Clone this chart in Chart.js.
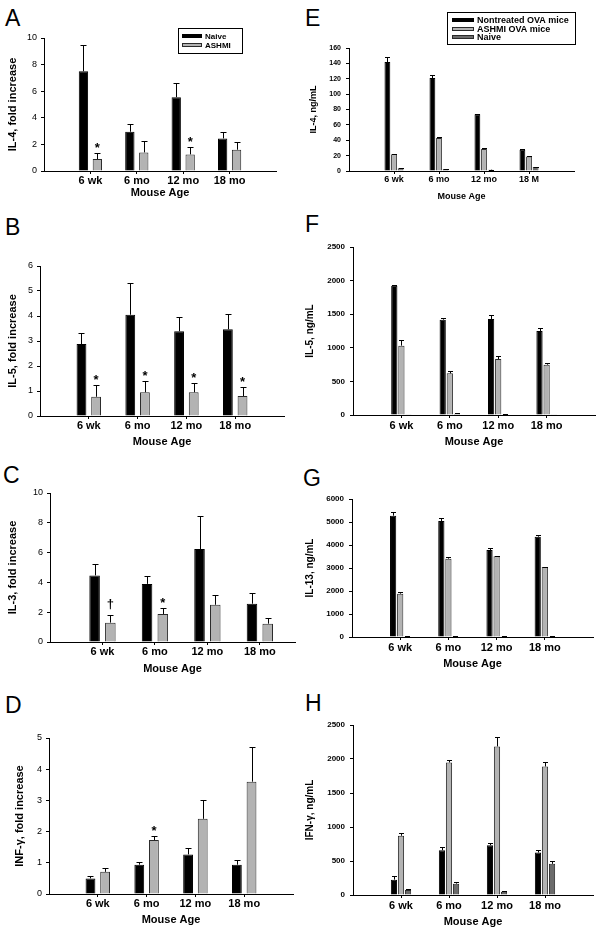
<!DOCTYPE html>
<html lang="en">
<head>
<meta charset="utf-8">
<title>Cytokine responses by mouse age</title>
<script src="https://cdn.jsdelivr.net/npm/chart.js@4.4.1/dist/chart.umd.min.js"></script>
<style>
  html, body { margin: 0; padding: 0; background: #fff; }
  #figure { position: relative; width: 600px; height: 934px; overflow: hidden; }
  #figure canvas { position: absolute; }
  .tag { position: absolute; font: 23px "Liberation Sans", Arial, sans-serif; line-height: 1; color: #000; }
</style>
</head>
<body>
<div id="figure"></div>
<script>
// Category axis: four ages, placed at 1..4 on a linear x scale
const ageLabels = ['6 wk', '6 mo', '12 mo', '18 mo'];
const ageLabelsE = ['6 wk', '6 mo', '12 mo', '18 M'];
const agePositions = [1, 2, 3, 4];

// A - IL-4, fold increase
const aNaive = [7.5, 2.95, 5.55, 2.45];
const aNaiveErr = [1.95, 0.55, 1.1, 0.5];
const aAshmi = [0.9, 1.4, 1.25, 1.6];
const aAshmiErr = [0.45, 0.85, 0.55, 0.6];
const aMarks = ['*', '', '*', ''];

// B - IL-5, fold increase
const bNaive = [2.88, 4.05, 3.39, 3.47];
const bNaiveErr = [0.45, 1.28, 0.56, 0.61];
const bAshmi = [0.77, 0.95, 0.95, 0.8];
const bAshmiErr = [0.47, 0.45, 0.36, 0.35];
const bMarks = ['*', '*', '*', '*'];

// C - IL-3, fold increase
const cNaive = [4.47, 3.9, 6.24, 2.57];
const cNaiveErr = [0.76, 0.55, 2.24, 0.7];
const cAshmi = [1.3, 1.88, 2.5, 1.23];
const cAshmiErr = [0.49, 0.4, 0.63, 0.36];
const cMarks = ['\u2020', '*', '', ''];

// D - INF-gamma, fold increase
const dNaive = [0.5, 0.94, 1.27, 0.94];
const dNaiveErr = [0.09, 0.08, 0.19, 0.16];
const dAshmi = [0.71, 1.73, 2.41, 3.6];
const dAshmiErr = [0.13, 0.14, 0.6, 1.12];
const dMarks = ['', '*', '', ''];

// E - IL-4, ng/mL
const eOva = [141.7, 120.9, 73.9, 27.8];
const eOvaErr = [6, 3.5, 0.6, 0.6];
const eAshmi = [21.7, 43, 28.7, 18.7];
const eAshmiErr = [1, 1.5, 1, 1.3];
const eNaive = [3.5, 2.6, 1.7, 5.2];
const eNaiveErr = [0.5, 0.3, 0.2, 0.5];

// F - IL-5, ng/mL
const fOva = [1924, 1419, 1429, 1250];
const fOvaErr = [10, 29, 54, 40];
const fAshmi = [1032, 620, 833, 749];
const fAshmiErr = [89, 40, 40, 25];
const fNaive = [4, 20, 10, 3];
const fNaiveErr = [0, 5, 3, 0];

// G - IL-13, ng/mL
const gOva = [5275, 5043, 3783, 4362];
const gOvaErr = [145, 145, 87, 87];
const gAshmi = [1884, 3406, 3507, 3043];
const gAshmiErr = [87, 58, 20, 20];
const gNaive = [30, 30, 30, 30];
const gNaiveErr = [5, 5, 5, 5];

// H - IFN-gamma, ng/mL
const hOva = [226, 659, 733, 625];
const hOvaErr = [50, 50, 25, 30];
const hAshmi = [871, 1949, 2185, 1890];
const hAshmiErr = [44, 39, 138, 59];
const hNaive = [74, 167, 49, 458];
const hNaiveErr = [15, 30, 8, 39];

(function () {
  const FONT = '"Liberation Sans", Arial, Helvetica, sans-serif';
  const black = '#000000';
  const gray = '#b3b3b3';
  const dark = '#6b6b6b';
  const edge = '#2a2a2a';
  const markLift = { '*': 2, '\u2020': 8 };

  Chart.defaults.font.family = FONT;
  Chart.defaults.color = '#000';

  function bars(label, values, errors, fill, marks) {
    return {
      label: label,
      data: values.map((v, i) => ({ x: agePositions[i], y: v })),
      errors: errors,
      marks: marks || [],
      backgroundColor: fill,
      borderColor: fill === black ? black : edge,
      borderWidth: 1,
    };
  }

  // One-sided SEM whiskers plus significance marks, placed through the y scale
  const errorBars = {
    id: 'errorBars',
    afterDatasetsDraw(chart, args, opts) {
      const ctx = chart.ctx;
      const y = chart.scales.y;
      const cap = opts.cap || 3;
      ctx.save();
      ctx.strokeStyle = '#000';
      ctx.lineWidth = 1;
      chart.data.datasets.forEach((ds, i) => {
        chart.getDatasetMeta(i).data.forEach((bar, j) => {
          const err = ds.errors ? ds.errors[j] : 0;
          const top = Math.round(y.getPixelForValue(ds.data[j].y + err)) + 0.5;
          const x = Math.round(bar.x) + 0.5;
          if (err > 0) {
            ctx.beginPath();
            ctx.moveTo(x, bar.y);
            ctx.lineTo(x, top);
            ctx.moveTo(x - cap, top);
            ctx.lineTo(x + cap, top);
            ctx.stroke();
          }
          const mark = ds.marks[j];
          if (mark) {
            ctx.fillStyle = '#000';
            ctx.font = 'bold 13px ' + FONT;
            ctx.textAlign = 'center';
            ctx.textBaseline = 'alphabetic';
            ctx.fillText(mark, bar.x, top - (markLift[mark] || 2));
          }
        });
      });
      ctx.restore();
    },
  };

  // Boxed legend sitting over the plot, as in the original figure
  const boxLegend = {
    id: 'boxLegend',
    afterDraw(chart, args, opts) {
      if (!opts.rect) return;
      const ctx = chart.ctx;
      const [x, y, w, h] = opts.rect;
      ctx.save();
      ctx.lineWidth = 1;
      ctx.strokeStyle = '#000';
      ctx.strokeRect(x + 0.5, y + 0.5, w, h);
      ctx.font = 'bold ' + opts.size + 'px ' + FONT;
      ctx.textBaseline = 'middle';
      ctx.textAlign = 'left';
      chart.data.datasets.forEach((ds, i) => {
        const cy = Math.round(y + opts.first + i * opts.step);
        ctx.fillStyle = ds.backgroundColor;
        ctx.fillRect(x + opts.swX, cy - 2, opts.swW, 4);
        ctx.strokeStyle = ds.borderColor;
        ctx.strokeRect(x + opts.swX + 0.5, cy - 2 + 0.5, opts.swW - 1, 3);
        ctx.fillStyle = '#000';
        ctx.fillText(ds.label, x + opts.txX, cy + 0.5);
      });
      ctx.restore();
    },
  };

  Chart.register(errorBars, boxLegend);

  const leftStyle = {
    yTick: { size: 9 }, xTick: { size: 11, weight: 'bold' },
    yTitle: { size: 11, weight: 'bold' }, xTitle: { size: 11, weight: 'bold' },
    yTickPad: 4, xTickPad: 0, cat: 0.6, bar: 0.67, cap: 3,
  };
  const rightStyle = {
    yTick: { size: 8, weight: 'bold' }, xTick: { size: 11, weight: 'bold' },
    yTitle: { size: 10, weight: 'bold' }, xTitle: { size: 11, weight: 'bold' },
    yTickPad: 5, xTickPad: 1, cat: 0.44, bar: 0.88, cap: 2.5,
  };
  const smallStyle = Object.assign({}, rightStyle, {
    yTick: { size: 7, weight: 'bold' }, xTick: { size: 9, weight: 'bold' },
    yTitle: { size: 9, weight: 'bold' }, xTitle: { size: 9, weight: 'bold' }, xTickPad: 0,
  });

  const panels = [
    { tag: 'A', col: 0, tagAt: [5, 7], axisX: 44, top: 38, zero: 171, right: 276, yMax: 10, yStep: 2, xMax: 5,
      yTitle: 'IL-4, fold increase', titleX: 13, xTitlePad: 5, style: leftStyle, labels: ageLabels,
      legend: { rect: [178, 28, 64, 25], size: 8, first: 7.5, step: 9, swX: 4, swW: 20, txX: 27 },
      datasets: [bars('Naive', aNaive, aNaiveErr, black), bars('ASHMI', aAshmi, aAshmiErr, gray, aMarks)] },
    { tag: 'B', col: 0, tagAt: [5, 216], axisX: 40, top: 266, zero: 416, right: 284, yMax: 6, yStep: 1, xMax: 5,
      yTitle: 'IL-5, fold increase', titleX: 13, xTitlePad: 1.4, style: leftStyle, labels: ageLabels,
      datasets: [bars('Naive', bNaive, bNaiveErr, black), bars('ASHMI', bAshmi, bAshmiErr, gray, bMarks)] },
    { tag: 'C', col: 0, tagAt: [3, 464], axisX: 50, top: 493, zero: 642, right: 295, yMax: 10, yStep: 2, xMax: 4.67,
      yTitle: 'IL-3, fold increase', titleX: 13, xTitlePad: 0.4, style: leftStyle, labels: ageLabels,
      datasets: [bars('Naive', cNaive, cNaiveErr, black), bars('ASHMI', cAshmi, cAshmiErr, gray, cMarks)] },
    { tag: 'D', col: 0, tagAt: [5, 694], axisX: 49, top: 738, zero: 894, right: 293, yMax: 5, yStep: 1, xMax: 5,
      yTitle: 'INF-\u03b3, fold increase', titleX: 20, xTitlePad: 1.4, style: leftStyle, labels: ageLabels,
      datasets: [bars('Naive', dNaive, dNaiveErr, black), bars('ASHMI', dAshmi, dAshmiErr, gray, dMarks)] },
    { tag: 'E', col: 300, tagAt: [305, 7], axisX: 349, top: 48, zero: 171, right: 574, yMax: 160, yStep: 20, xMax: 5,
      yTitle: 'IL-4, ng/mL', titleX: 314, xTitlePad: 2.6, style: smallStyle, labels: ageLabelsE,
      legend: { rect: [447, 12, 128, 32], size: 9, first: 8, step: 8.5, swX: 5, swW: 22, txX: 30 },
      datasets: [bars('Nontreated OVA mice', eOva, eOvaErr, black), bars('ASHMI OVA mice', eAshmi, eAshmiErr, gray),
        bars('Naive', eNaive, eNaiveErr, dark)] },
    { tag: 'F', col: 300, tagAt: [305, 213], axisX: 353, top: 247, zero: 415, right: 595, yMax: 2500, yStep: 500, xMax: 5,
      yTitle: 'IL-5, ng/mL', titleX: 310, xTitlePad: 0.4, style: rightStyle, labels: ageLabels,
      datasets: [bars('Nontreated OVA mice', fOva, fOvaErr, black), bars('ASHMI OVA mice', fAshmi, fAshmiErr, gray),
        bars('Naive', fNaive, fNaiveErr, dark)] },
    { tag: 'G', col: 300, tagAt: [303, 467], axisX: 352, top: 499, zero: 637, right: 593, yMax: 6000, yStep: 1000, xMax: 5,
      yTitle: 'IL-13, ng/mL', titleX: 310, xTitlePad: 0.4, style: rightStyle, labels: ageLabels,
      datasets: [bars('Nontreated OVA mice', gOva, gOvaErr, black), bars('ASHMI OVA mice', gAshmi, gAshmiErr, gray),
        bars('Naive', gNaive, gNaiveErr, dark)] },
    { tag: 'H', col: 300, tagAt: [305, 692], axisX: 353, top: 725, zero: 895, right: 593, yMax: 2500, yStep: 500, xMax: 5,
      yTitle: 'IFN-\u03b3, ng/mL', titleX: 310, xTitlePad: 0.4, style: rightStyle, labels: ageLabels,
      datasets: [bars('Nontreated OVA mice', hOva, hOvaErr, black), bars('ASHMI OVA mice', hAshmi, hAshmiErr, gray),
        bars('Naive', hNaive, hNaiveErr, dark)] },
  ];

  const figure = document.getElementById('figure');

  panels.forEach((p) => {
    const s = p.style;
    const canvasTop = Math.min(p.top - 16, p.legend ? p.legend.rect[1] - 2 : Infinity);
    const canvasBottom = p.zero + 34;

    const tag = document.createElement('div');
    tag.className = 'tag';
    tag.textContent = p.tag;
    tag.style.left = p.tagAt[0] + 'px';
    tag.style.top = p.tagAt[1] + 'px';
    figure.appendChild(tag);

    const canvas = document.createElement('canvas');
    canvas.width = 300;
    canvas.height = canvasBottom - canvasTop;
    canvas.style.left = p.col + 'px';
    canvas.style.top = canvasTop + 'px';
    figure.appendChild(canvas);

    let legend = false;
    if (p.legend) {
      const r = p.legend.rect;
      legend = Object.assign({}, p.legend, { rect: [r[0] - p.col, r[1] - canvasTop, r[2], r[3]] });
    }
    const yTitleLine = s.yTitle.size * 1.2;

    new Chart(canvas, {
      type: 'bar',
      data: { datasets: p.datasets },
      options: {
        responsive: false,
        animation: false,
        categoryPercentage: s.cat,
        barPercentage: s.bar,
        layout: { padding: { left: 0, top: p.top - canvasTop, right: p.col + 300 - p.right, bottom: 0 } },
        plugins: {
          legend: { display: false },
          tooltip: { enabled: false },
          errorBars: { cap: s.cap },
          boxLegend: legend || {},
        },
        scales: {
          x: {
            type: 'linear',
            min: 0,
            max: p.xMax,
            offset: false,
            afterBuildTicks: (axis) => { axis.ticks = agePositions.map((v) => ({ value: v })); },
            afterFit: (axis) => { axis.height = canvasBottom - p.zero; },
            grid: { drawOnChartArea: false, offset: false, tickLength: 3, color: '#000' },
            border: { color: '#000', width: 1 },
            ticks: {
              font: s.xTick, padding: s.xTickPad, maxRotation: 0, autoSkip: false,
              callback: (v) => p.labels[agePositions.indexOf(v)] || '',
            },
            title: { display: true, text: 'Mouse Age', font: s.xTitle, padding: { top: 0, bottom: p.xTitlePad } },
          },
          y: {
            min: 0,
            max: p.yMax,
            afterFit: (axis) => { axis.width = p.axisX - p.col; },
            grid: { drawOnChartArea: false, tickLength: 3, color: '#000' },
            border: { color: '#000', width: 1 },
            ticks: { stepSize: p.yStep, font: s.yTick, padding: s.yTickPad, callback: (v) => String(v) },
            title: {
              display: true, text: p.yTitle, font: s.yTitle,
              padding: { top: p.titleX - p.col - yTitleLine / 2, bottom: 0 },
            },
          },
        },
      },
    });
  });
}());
</script>
</body>
</html>
